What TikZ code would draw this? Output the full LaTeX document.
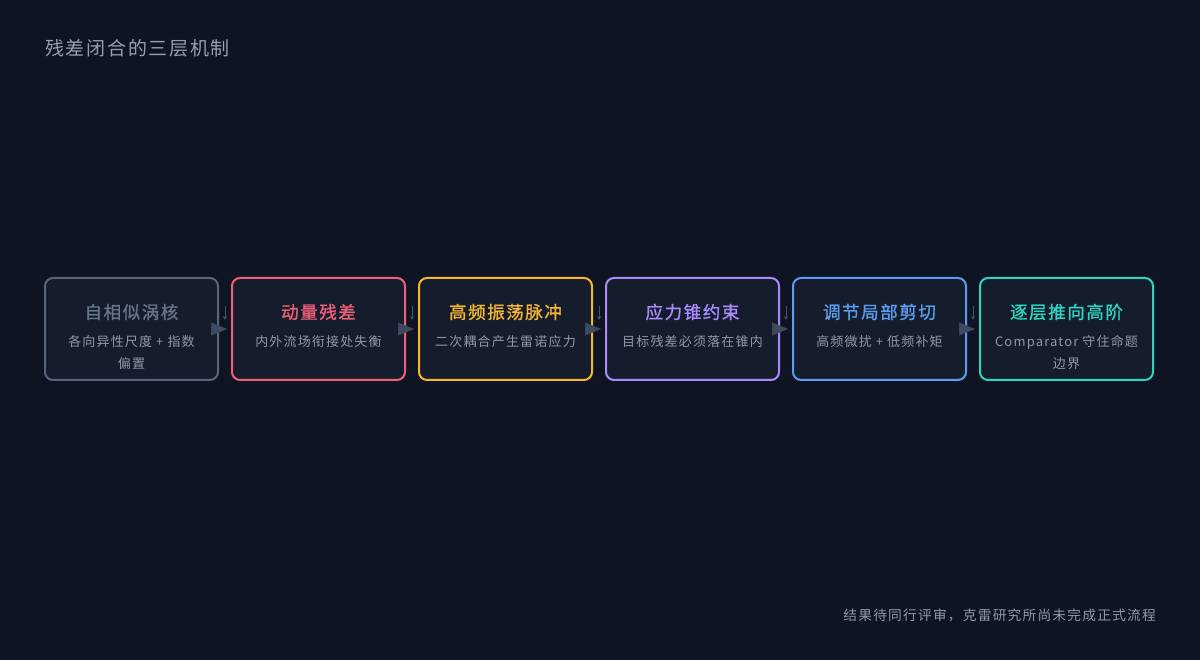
\documentclass[tikz,border=0pt]{standalone}
\usepackage{fontspec}
\setmainfont{Noto Sans CJK SC}[LetterSpace=9]
\newfontfamily\cjkbold{Noto Sans CJK SC}[LetterSpace=9,FakeBold=1.2]
\usetikzlibrary{arrows.meta}
\definecolor{bgc}{HTML}{0E1421}
\definecolor{boxfill}{HTML}{151C2B}
\definecolor{titlec}{HTML}{94A0B2}
\definecolor{subc}{HTML}{8F99AA}
\definecolor{cA}{HTML}{56657C}
\definecolor{cAt}{HTML}{67758A}
\definecolor{cB}{HTML}{F0607A}
\definecolor{cC}{HTML}{F5B731}
\definecolor{cD}{HTML}{A78BFA}
\definecolor{cE}{HTML}{5B9CF0}
\definecolor{cF}{HTML}{2DD4BF}
\definecolor{headc}{HTML}{3D4A60}
\definecolor{smallc}{HTML}{44516A}
\tikzset{
  stagebox/.style={draw=#1, line width=2pt, fill=boxfill, rounded corners=8pt,
    minimum width=173pt, minimum height=102pt, inner sep=0pt},
  stagetitle/.style={text=#1, font=\fontsize{17.5}{20}\selectfont\cjkbold, inner sep=0pt, anchor=center},
  stagesub/.style={text=subc, font=\fontsize{13}{22}\selectfont, inner sep=0pt, align=center, anchor=north},
  conn/.style={draw=headc, line width=0.5pt, -{Triangle[length=16pt,width=13pt,fill=headc,color=headc]}, shorten >=4pt},
  tick/.style={draw=smallc, line width=1pt, -{Stealth[length=4pt,width=4pt]}}
}
\begin{document}
\begin{tikzpicture}[x=1pt,y=-1pt]
\fill[bgc] (0,0) rectangle (1200,660);
\useasboundingbox (0,0) rectangle (1200,660);

\node[anchor=west, text=titlec, font=\fontsize{19}{22}\selectfont, inner sep=0pt] (title) at (45,48) {残差闭合的三层机制};
\node[anchor=east, text=subc, font=\fontsize{13.7}{18}\selectfont, inner sep=0pt] (foot) at (1156,615) {结果待同行评审，克雷研究所尚未完成正式流程};

\node[stagebox=cA] (b1) at (131.5,329) {};
\node[stagebox=cB] (b2) at (318.5,329) {};
\node[stagebox=cC] (b3) at (505.5,329) {};
\node[stagebox=cD] (b4) at (692.5,329) {};
\node[stagebox=cE] (b5) at (879.5,329) {};
\node[stagebox=cF] (b6) at (1066.5,329) {};

\node[stagetitle=cAt] (t1) at (131.5,312) {自相似涡核};
\node[stagetitle=cB] (t2) at (318.5,312) {动量残差};
\node[stagetitle=cC] (t3) at (505.5,312) {高频振荡脉冲};
\node[stagetitle=cD] (t4) at (692.5,312) {应力锥约束};
\node[stagetitle=cE] (t5) at (879.5,312) {调节局部剪切};
\node[stagetitle=cF] (t6) at (1066.5,312) {逐层推向高阶};

\node[stagesub] (s1) at (131.5,335) {各向异性尺度 + 指数\\偏置};
\node[stagesub] (s2) at (318.5,335) {内外流场衔接处失衡};
\node[stagesub] (s3) at (505.5,335) {二次耦合产生雷诺应力};
\node[stagesub] (s4) at (692.5,335) {目标残差必须落在锥内};
\node[stagesub] (s5) at (879.5,335) {高频微扰 + 低频补矩};
\node[stagesub] (s6) at (1066.5,335) {Comparator 守住命题\\边界};

\foreach \a/\b/\x in {b1/b2/225, b2/b3/412, b3/b4/599, b4/b5/786, b5/b6/973}{
  \coordinate (u\a) at (\x,306);
  \coordinate (v\a) at (\x,320);
  \draw[tick] (u\a) -- (v\a);
  \draw[conn] (\a.east) -- (\b.west);
}
\end{tikzpicture}
\end{document}
